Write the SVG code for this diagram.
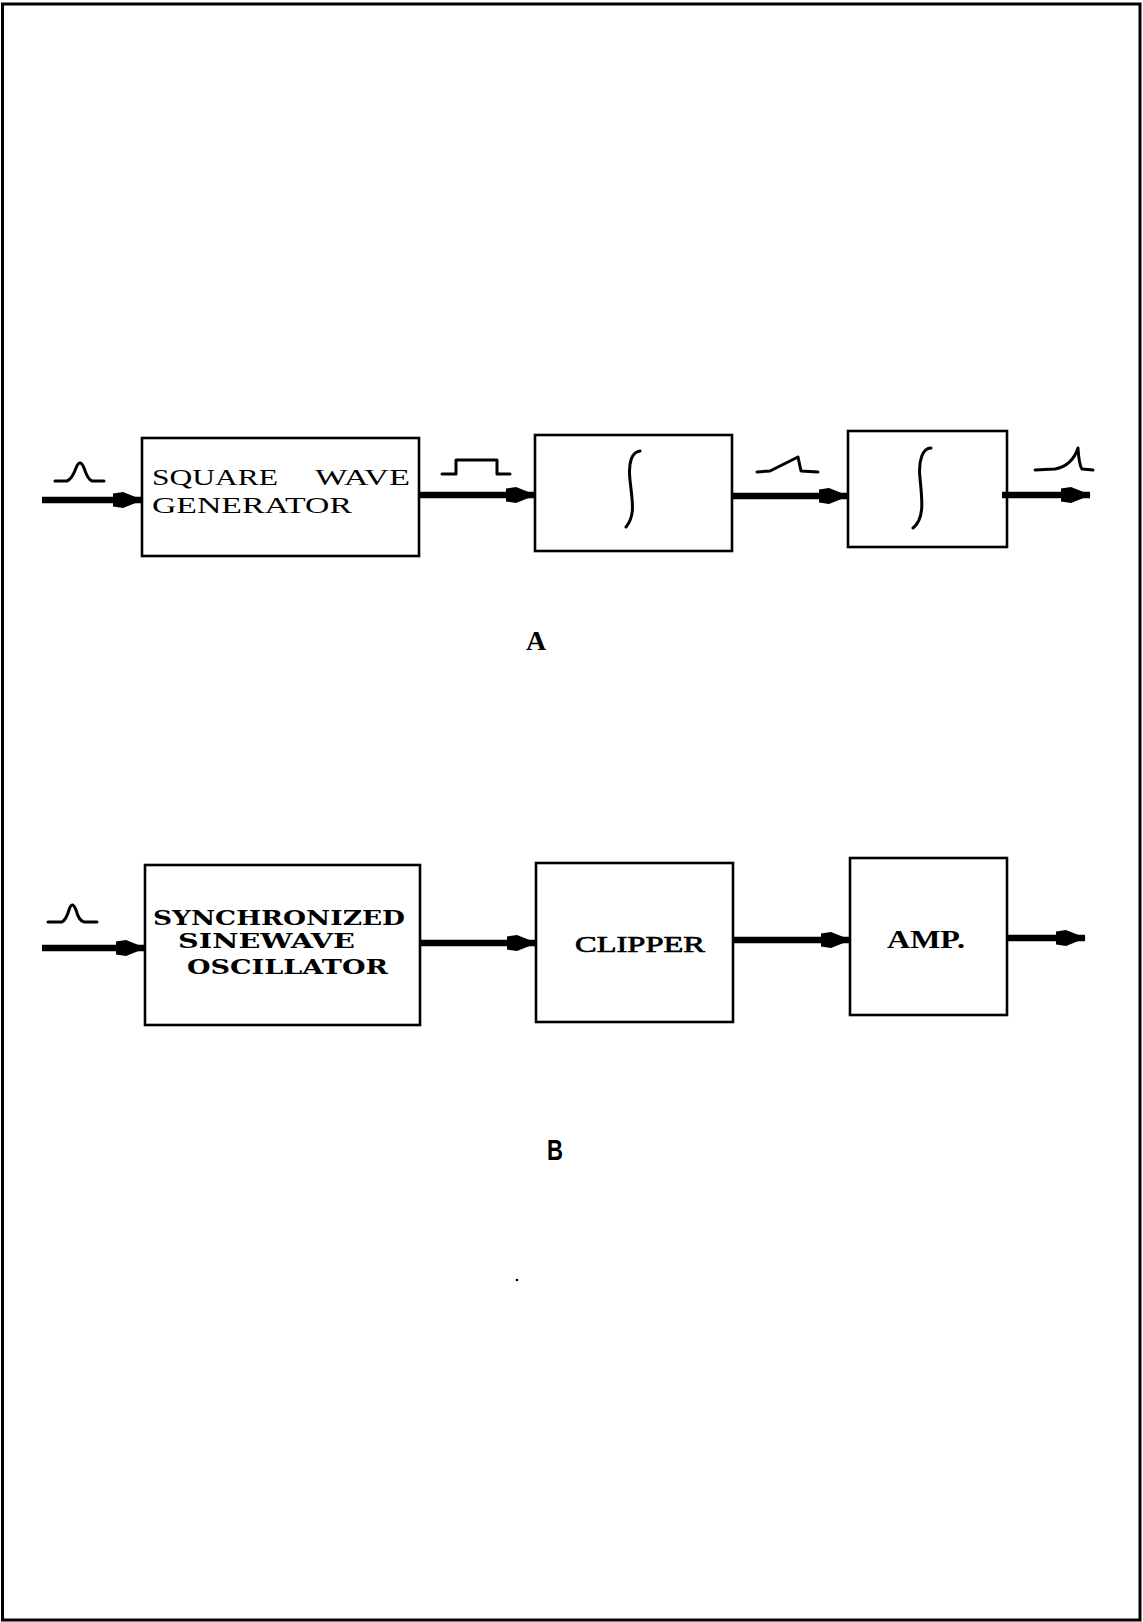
<svg xmlns="http://www.w3.org/2000/svg" width="1143" height="1622" viewBox="0 0 1143 1622">
<style>
.box{fill:none;stroke:#000;stroke-width:2.6}
.conn{stroke:#000;stroke-width:6.5;fill:none}
.sym{fill:none;stroke:#000;stroke-width:3;stroke-linecap:round;stroke-linejoin:round}
.ta{font-family:"Liberation Serif","Times New Roman",serif;fill:#000}
.tb{font-family:"DejaVu Serif","Liberation Serif",serif;font-weight:bold;fill:#000}
</style>
<defs>
<marker id="ah" markerUnits="userSpaceOnUse" viewBox="0 0 30 18" refX="29" refY="9" markerWidth="30" markerHeight="18" orient="auto">
<path d="M0,2.5 L10,1 L30,9 L10,17 L0,15.5 Z" fill="#000"/>
</marker>
</defs>
<rect width="1143" height="1622" fill="#fff"/>
<g id="frame">
<path d="M2.5,1620 L2.5,4 L1140,4 L1140,1620 Z" fill="none" stroke="#000" stroke-width="3"/>
</g>
<g id="connectors">
<line class="conn" x1="42" y1="500" x2="142" y2="500" marker-end="url(#ah)"/>
<line class="conn" x1="419" y1="495" x2="535" y2="495" marker-end="url(#ah)"/>
<line class="conn" x1="731" y1="496" x2="848" y2="496" marker-end="url(#ah)"/>
<line class="conn" x1="1002" y1="495" x2="1090" y2="495" marker-end="url(#ah)"/>
<line class="conn" x1="42" y1="948" x2="145" y2="948" marker-end="url(#ah)"/>
<line class="conn" x1="420" y1="943" x2="536" y2="943" marker-end="url(#ah)"/>
<line class="conn" x1="733" y1="940" x2="850" y2="940" marker-end="url(#ah)"/>
<line class="conn" x1="1007" y1="938" x2="1085" y2="938" marker-end="url(#ah)"/>
</g>
<g id="waveforms">
<path class="sym" d="M55,481 L67,481 Q72,479 76,468 Q80,458 84,468 Q88,480 92,481 L104,481"/>
<path class="sym" d="M442,474 L456,474 L456,460 L497,460 L497,474 L510,474"/>
<path class="sym" d="M757,472 L770,471 L798,457 L801,471 L818,472"/>
<path class="sym" d="M1035,470 L1055,469 Q1072,466 1078,448 Q1079,465 1082,469 L1093,470"/>
<path class="sym" d="M48,922 L62,922 Q66,920 69,910 Q72,900 76,910 Q79,921 84,922 L97,922"/>
</g>
<g id="square-wave-generator">
<rect class="box" x="142" y="438" width="277" height="118"/>
<text class="ta" font-size="23"><tspan x="152" y="485" textLength="126" lengthAdjust="spacingAndGlyphs">SQUARE</tspan><tspan x="315" y="485" textLength="95" lengthAdjust="spacingAndGlyphs">WAVE</tspan></text>
<text class="ta" font-size="23" x="152" y="513" textLength="200" lengthAdjust="spacingAndGlyphs">GENERATOR</text>
</g>
<g id="integrator-1">
<rect class="box" x="535" y="435" width="197" height="116"/>
<path class="sym" d="M640,451 C632,452 628,462 630,480 C632,500 636,515 626,527"/>
</g>
<g id="integrator-2">
<rect class="box" x="848" y="431" width="159" height="116"/>
<path class="sym" d="M931,448 C923,448 918,460 920,478 C922,500 925,518 913,528"/>
</g>
<text id="label-a" x="536" y="650" text-anchor="middle" font-family="Liberation Serif, serif" font-weight="bold" font-size="28">A</text>
<g id="synchronized-sinewave-oscillator">
<rect class="box" x="145" y="865" width="275" height="160"/>
<text class="tb" font-size="20" x="153" y="925" textLength="252" lengthAdjust="spacingAndGlyphs">SYNCHRONIZED</text>
<text class="tb" font-size="20" x="178" y="948" textLength="177" lengthAdjust="spacingAndGlyphs">SINEWAVE</text>
<text class="tb" font-size="20" x="187" y="974" textLength="201" lengthAdjust="spacingAndGlyphs">OSCILLATOR</text>
</g>
<g id="clipper">
<rect class="box" x="536" y="863" width="197" height="159"/>
<text font-family="Liberation Serif, serif" font-size="24" stroke="#000" stroke-width="0.7" x="575" y="952" textLength="130" lengthAdjust="spacingAndGlyphs">CLIPPER</text>
</g>
<g id="amp">
<rect class="box" x="850" y="858" width="157" height="157"/>
<text font-family="Liberation Serif, serif" font-weight="bold" font-size="26" x="887" y="948" textLength="78" lengthAdjust="spacingAndGlyphs">AMP.</text>
</g>
<text id="label-b" x="547" y="1160" font-family="Liberation Sans, sans-serif" font-weight="bold" font-size="30" textLength="16" lengthAdjust="spacingAndGlyphs">B</text>
<circle cx="517" cy="1280" r="1.3" fill="#000"/>
</svg>
